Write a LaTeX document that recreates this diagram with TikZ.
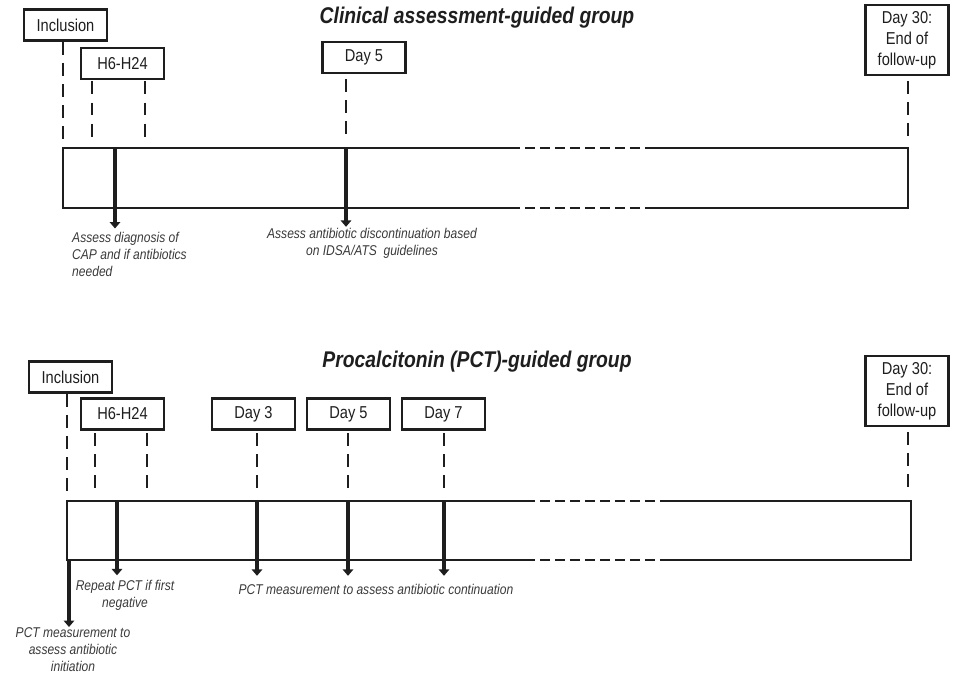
\documentclass[tikz,border=0pt]{standalone}
\usepackage{fontspec}
\setmainfont{Liberation Sans}[FakeStretch=0.85]
\usetikzlibrary{arrows.meta}
\definecolor{ink}{HTML}{1E1E1E}
\definecolor{notegray}{HTML}{3A3A3A}

\tikzset{
  daybox/.style={draw=ink, line width=2.2pt, minimum width=2.5cm, minimum height=0.93cm, inner sep=1pt,
    font=\fontsize{14.7}{18}\selectfont, text=ink, align=center},
  endbox/.style={daybox, minimum height=2.1cm},
  grouptitle/.style={font=\fontsize{19.4}{22}\selectfont\bfseries\itshape, text=ink},
  vdash/.style={draw=ink, line width=2.2pt, dash pattern=on 11pt off 7pt},
  barline/.style={draw=ink, line width=2.1pt},
  gapline/.style={draw=ink, line width=2.1pt, dash pattern=on 8.5pt off 4.3pt},
  downarrow/.style={draw=ink, line width=3pt, -{Triangle[width=9pt,length=5.5pt]}},
  notetext/.style={font=\fontsize{12.1}{14.5}\selectfont\itshape, text=notegray, inner sep=0pt}
}

\begin{document}
\begin{tikzpicture}[x=0.03cm, y=-0.03cm]
    \useasboundingbox (0,0) rectangle (954,674);

    % clinical assessment-guided group
    \node[grouptitle] (t1) at (477,18) {Clinical assessment-guided group};
    \node[daybox] (in1) at (65.5,25) {Inclusion};
    \node[daybox] (h1) at (122.5,63.5) {H6-H24};
    \node[daybox] (d5a) at (364,57.5) {Day 5};
    \node[endbox] (d30a) at (907,40) {Day 30:\\End of\\follow-up};

    \coordinate (g1) at (63,140);
    \coordinate (g2) at (92,140);
    \coordinate (g3) at (145,140);
    \coordinate (g4) at (346,138);
    \coordinate (g5) at (908,140);
    \draw[vdash] (in1.south -| g1) -- (g1);
    \draw[vdash] ([yshift=-1pt]h1.south -| g2) -- (g2);
    \draw[vdash] ([yshift=-1pt]h1.south -| g3) -- (g3);
    \draw[vdash] ([yshift=-4pt]d5a.south -| g4) -- (g4);
    \draw[vdash] ([yshift=-4pt]d30a.south -| g5) -- (g5);

    \draw[barline] (510,148) -- (63,148) -- (63,208) -- (510,208);
    \draw[barline] (647,148) -- (908,148) -- (908,208) -- (647,208);
    \draw[gapline] (510,148) -- (647,148);
    \draw[gapline] (510,208) -- (647,208);

    \node[notetext, anchor=north west, align=left] (n1) at (72,232)
      {Assess diagnosis of\\CAP and if antibiotics\\needed};
    \node[notetext, anchor=north, align=center] (n2) at (372,228)
      {Assess antibiotic discontinuation based\\on IDSA/ATS\ \ guidelines};
    \coordinate (a1) at (115,148);
    \coordinate (a2) at (346,148);
    \draw[downarrow] (a1) -- ([yshift=3pt]a1 |- n1.north);
    \draw[downarrow] (a2) -- ([yshift=1pt]a2 |- n2.north);

    % procalcitonin-guided group
    \node[grouptitle] (t2) at (477,362) {Procalcitonin (PCT)-guided group};
    \node[daybox] (in2) at (70.5,377) {Inclusion};
    \node[daybox] (h2) at (122.5,414) {H6-H24};
    \node[daybox] (d3) at (253.5,414) {Day 3};
    \node[daybox] (d5b) at (348.5,414) {Day 5};
    \node[daybox] (d7) at (443.5,414) {Day 7};
    \node[endbox] (d30b) at (907,391) {Day 30:\\End of\\follow-up};

    \coordinate (k1) at (67,492);
    \coordinate (k2) at (95,492);
    \coordinate (k3) at (147,492);
    \coordinate (k4) at (257,492);
    \coordinate (k5) at (348,492);
    \coordinate (k6) at (444,492);
    \coordinate (k7) at (908,492);
    \draw[vdash] (in2.south -| k1) -- (k1);
    \draw[vdash] ([yshift=-2pt]h2.south -| k2) -- (k2);
    \draw[vdash] ([yshift=-2pt]h2.south -| k3) -- (k3);
    \draw[vdash] ([yshift=-2pt]d3.south -| k4) -- (k4);
    \draw[vdash] ([yshift=-2pt]d5b.south -| k5) -- (k5);
    \draw[vdash] ([yshift=-2pt]d7.south -| k6) -- (k6);
    \draw[vdash] ([yshift=-4pt]d30b.south -| k7) -- (k7);

    \draw[barline] (525,501) -- (67,501) -- (67,560) -- (525,560);
    \draw[barline] (662,501) -- (911,501) -- (911,560) -- (662,560);
    \draw[gapline] (525,501) -- (662,501);
    \draw[gapline] (525,560) -- (662,560);

    \node[notetext, anchor=north, align=center] (m1) at (125,580)
      {Repeat PCT if first\\negative};
    \node[notetext, anchor=north] (m2) at (376,584)
      {PCT measurement to assess antibiotic continuation};
    \node[notetext, anchor=north, align=center] (m3) at (73,627)
      {PCT measurement to\\assess antibiotic\\initiation};
    \coordinate (b1) at (117,501);
    \coordinate (b2) at (257,501);
    \coordinate (b3) at (348,501);
    \coordinate (b4) at (444,501);
    \coordinate (b5) at (69,560);
    \draw[downarrow] (b1) -- ([yshift=4pt]b1 |- m1.north);
    \draw[downarrow] (b2) -- ([yshift=7pt]b2 |- m2.north);
    \draw[downarrow] (b3) -- ([yshift=7pt]b3 |- m2.north);
    \draw[downarrow] (b4) -- ([yshift=7pt]b4 |- m2.north);
    \draw[downarrow] (b5) -- ([yshift=0pt]b5 |- m3.north);

\end{tikzpicture}
\end{document}
